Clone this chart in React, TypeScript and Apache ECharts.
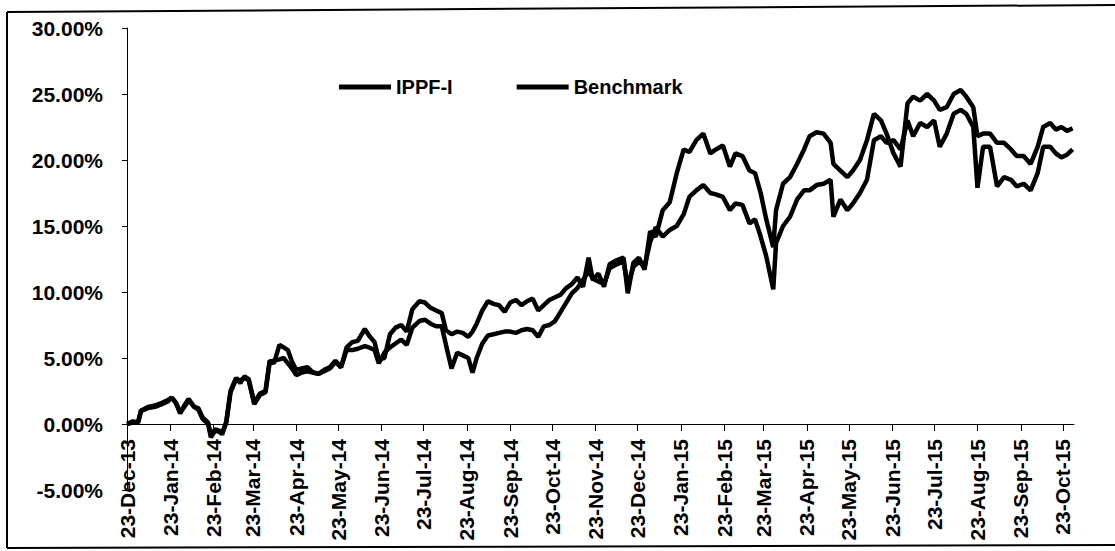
import React, { useEffect, useRef } from "react";
import * as echarts from "echarts";

const startDate = "2013-12-23";
const axisEndDay = 677;

const tickLabels = [
  "23-Dec-13", "23-Jan-14", "23-Feb-14", "23-Mar-14", "23-Apr-14", "23-May-14",
  "23-Jun-14", "23-Jul-14", "23-Aug-14", "23-Sep-14", "23-Oct-14", "23-Nov-14",
  "23-Dec-14", "23-Jan-15", "23-Feb-15", "23-Mar-15", "23-Apr-15", "23-May-15",
  "23-Jun-15", "23-Jul-15", "23-Aug-15", "23-Sep-15", "23-Oct-15",
];

const seriesNames = ["IPPF-I", "Benchmark"];

// days since 23-Dec-13
const daysSinceStart = [
  0, 4, 8, 10, 15, 20, 25, 29, 32, 35, 38, 41, 44, 48, 51, 54, 58, 60, 63, 66,
  68, 71, 74, 78, 81, 84, 87, 91, 95, 99, 102, 105, 109, 112, 115, 118, 121, 125, 129, 133,
  137, 141, 145, 149, 153, 157, 161, 165, 170, 173, 177, 180, 184, 188, 192, 196, 200, 204, 209, 213,
  217, 221, 225, 228, 232, 236, 240, 244, 247, 250, 254, 258, 262, 266, 270, 274, 278, 282, 286, 290,
  294, 298, 302, 306, 310, 314, 318, 322, 326, 330, 333, 337, 341, 345, 350, 355, 358, 362, 366, 370,
  374, 378, 383, 388, 393, 398, 402, 407, 412, 417, 421, 426, 431, 435, 440, 445, 449, 453, 457, 462,
  464, 469, 474, 479, 484, 488, 493, 498, 503, 505, 510, 515, 519, 524, 529, 534, 539, 543, 548, 553,
  558, 562, 567, 572, 577, 581, 586, 591, 596, 600, 605, 608, 612, 617, 622, 627, 632, 636, 641, 646,
  651, 655, 660, 664, 668, 672, 676,
];

// cumulative return, %
const ippf = [
  0.0, 0.2, 0.1, 1.0, 1.3, 1.4, 1.6, 1.8, 2.0, 1.6, 0.8, 1.4, 1.9, 1.3, 1.2, 0.5, 0.1, -0.9, -0.4, -0.5,
  -0.8, 0.2, 2.5, 3.5, 3.1, 3.6, 3.4, 1.6, 2.3, 2.5, 4.8, 4.6, 6.0, 5.8, 5.6, 4.7, 4.1, 4.2, 4.3, 3.9,
  3.8, 4.1, 4.3, 4.8, 4.3, 5.8, 6.2, 6.3, 7.2, 6.7, 6.2, 4.9, 5.0, 6.8, 7.3, 7.5, 7.0, 8.7, 9.3, 9.2,
  8.8, 8.6, 8.4, 7.1, 6.8, 7.0, 6.9, 6.6, 7.0, 7.6, 8.6, 9.3, 9.1, 9.0, 8.5, 9.2, 9.4, 9.0, 9.3, 9.5,
  8.6, 9.0, 9.4, 9.6, 9.8, 10.3, 10.6, 11.1, 10.4, 12.6, 10.9, 11.4, 10.4, 12.1, 12.4, 12.6, 9.9, 12.2, 12.6, 11.7,
  14.6, 14.2, 16.2, 16.8, 19.0, 20.8, 20.6, 21.5, 22.0, 20.5, 20.8, 21.1, 19.5, 20.5, 20.3, 19.2, 19.0, 17.5, 15.5, 13.4,
  16.2, 18.2, 18.7, 19.7, 20.8, 21.8, 22.1, 22.0, 21.3, 19.7, 19.2, 18.7, 19.2, 20.0, 21.5, 23.5, 23.0, 22.0, 20.5, 19.5,
  24.3, 24.8, 24.5, 25.0, 24.5, 23.8, 24.0, 25.0, 25.3, 24.8, 24.0, 21.8, 22.0, 22.0, 21.3, 21.3, 20.8, 20.3, 20.3, 19.7,
  21.0, 22.5, 22.8, 22.3, 22.5, 22.2, 22.4,
];

const benchmark = [
  0.0, 0.1, 0.2, 1.0, 1.2, 1.3, 1.5, 1.7, 2.0, 1.6, 0.9, 1.3, 1.8, 1.3, 1.1, 0.4, 0.0, -1.0, -0.5, -0.6,
  -0.7, 0.1, 2.4, 3.4, 3.3, 3.5, 3.3, 1.5, 2.2, 2.4, 4.7, 4.8, 4.9, 5.0, 4.6, 4.2, 3.7, 3.9, 4.0, 3.9,
  3.8, 4.0, 4.2, 4.7, 4.3, 5.6, 5.6, 5.7, 5.9, 5.8, 5.6, 4.6, 5.4, 5.8, 6.1, 6.4, 6.0, 7.3, 7.8, 7.9,
  7.6, 7.4, 7.4, 6.0, 4.2, 5.4, 5.2, 5.0, 3.9, 5.0, 6.1, 6.7, 6.8, 6.9, 7.0, 7.0, 6.9, 7.1, 7.2, 7.1,
  6.6, 7.4, 7.5, 7.8, 8.5, 9.2, 9.9, 10.3, 10.9, 11.6, 11.0, 10.8, 10.6, 11.8, 12.1, 12.3, 10.5, 11.9, 12.3, 11.9,
  13.8, 14.9, 14.2, 14.7, 15.0, 15.9, 17.2, 17.7, 18.1, 17.5, 17.4, 17.2, 16.2, 16.7, 16.6, 15.2, 15.5, 14.2, 12.7, 10.2,
  13.7, 15.0, 15.7, 17.0, 17.7, 17.7, 18.1, 18.2, 18.5, 15.7, 17.0, 16.2, 16.7, 17.5, 18.5, 21.5, 21.8, 21.3, 21.5, 20.8,
  23.0, 21.8, 22.8, 22.5, 23.0, 21.0, 22.0, 23.5, 23.8, 23.5, 22.5, 17.9, 21.0, 21.0, 18.0, 18.7, 18.5, 18.0, 18.2, 17.7,
  19.0, 21.0, 21.0, 20.5, 20.2, 20.4, 20.8,
];

const MONTHS = ["Jan", "Feb", "Mar", "Apr", "May", "Jun", "Jul", "Aug", "Sep", "Oct", "Nov", "Dec"];
const DAY = 86400000;

function isoToUTC(s: string): number {
  const [y, m, d] = s.split("-").map(Number);
  return Date.UTC(y, m - 1, d);
}
function labelToOffset(label: string): number {
  const [d, mon, yy] = label.split("-");
  const t = Date.UTC(2000 + Number(yy), MONTHS.indexOf(mon), Number(d));
  return Math.round((t - isoToUTC(startDate)) / DAY);
}

const tickOffsets = tickLabels.map(labelToOffset);

const Y_MIN = -5;
const Y_MAX = 30;
const GRID_TOP = 28;
const GRID_BOTTOM = 61;
const CHART_H = 551;

export default function App() {
  const ref = useRef<HTMLDivElement>(null);

  useEffect(() => {
    if (!ref.current) return;
    const chart = echarts.init(ref.current, null, { renderer: "svg" });
    const font = "'Liberation Sans', Arial, sans-serif";
    const mk = (vals: number[]) => daysSinceStart.map((d, i) => [d, vals[i]]);
    const plotH = CHART_H - GRID_TOP - GRID_BOTTOM;
    // move the x axis (with its labels) up to the zero line
    const zeroOffset = -plotH * (0 - Y_MIN) / (Y_MAX - Y_MIN);

    chart.setOption({
      animation: false,
      backgroundColor: "#ffffff",
      textStyle: { fontFamily: font },
      grid: {
        left: 127,
        right: 41,
        top: GRID_TOP,
        bottom: GRID_BOTTOM,
        containLabel: false,
        outerBoundsMode: "none",
      },
      legend: {
        left: 334,
        top: 72,
        icon: "rect",
        itemWidth: 52,
        itemHeight: 5,
        itemGap: 64,
        data: seriesNames,
        textStyle: { fontFamily: font, fontSize: 20, fontWeight: "bold", color: "#000" },
      },
      xAxis: {
        type: "value",
        min: 0,
        max: axisEndDay,
        offset: zeroOffset,
        splitLine: { show: false },
        axisLine: { show: true, onZero: false, lineStyle: { color: "#000", width: 1 } },
        axisTick: {
          show: true,
          customValues: tickOffsets,
          length: 7,
          lineStyle: { color: "#000", width: 1 },
        },
        axisLabel: {
          customValues: tickOffsets,
          rotate: 90,
          margin: 15,
          fontFamily: font,
          fontSize: 21,
          fontWeight: "bold",
          color: "#000",
          formatter: (v: number) => {
            const i = tickOffsets.indexOf(Math.round(v));
            return i >= 0 ? tickLabels[i] : "";
          },
        },
      },
      yAxis: {
        type: "value",
        min: Y_MIN,
        max: Y_MAX,
        interval: 5,
        splitLine: { show: false },
        axisLine: { show: true, onZero: false, lineStyle: { color: "#000", width: 1 } },
        axisTick: { show: true, length: 5, lineStyle: { color: "#000", width: 1 } },
        axisLabel: {
          margin: 24,
          fontFamily: font,
          fontSize: 21,
          fontWeight: "bold",
          color: "#000",
          formatter: (v: number) => v.toFixed(2) + "%",
        },
      },
      series: [
        {
          name: seriesNames[0],
          type: "line",
          data: mk(ippf),
          symbol: "none",
          showSymbol: false,
          color: "#000",
          lineStyle: { color: "#000", width: 4.5 },
          z: 3,
        },
        {
          name: seriesNames[1],
          type: "line",
          data: mk(benchmark),
          symbol: "none",
          showSymbol: false,
          color: "#000",
          lineStyle: { color: "#000", width: 4.5 },
          z: 2,
        },
      ],
      graphic: [
        { type: "line", shape: { x1: 7, y1: 12, x2: 1115, y2: 5 }, style: { stroke: "#000", lineWidth: 2 } },
        { type: "line", shape: { x1: 7, y1: 12, x2: 7, y2: 548 }, style: { stroke: "#000", lineWidth: 2 } },
        { type: "line", shape: { x1: 7, y1: 548, x2: 1115, y2: 545 }, style: { stroke: "#000", lineWidth: 2 } },
      ],
    });

    return () => chart.dispose();
  }, []);

  return (
    <div
      ref={ref}
      style={{ position: "absolute", left: 0, top: 0, width: 1115, height: 551, background: "#fff" }}
    />
  );
}
